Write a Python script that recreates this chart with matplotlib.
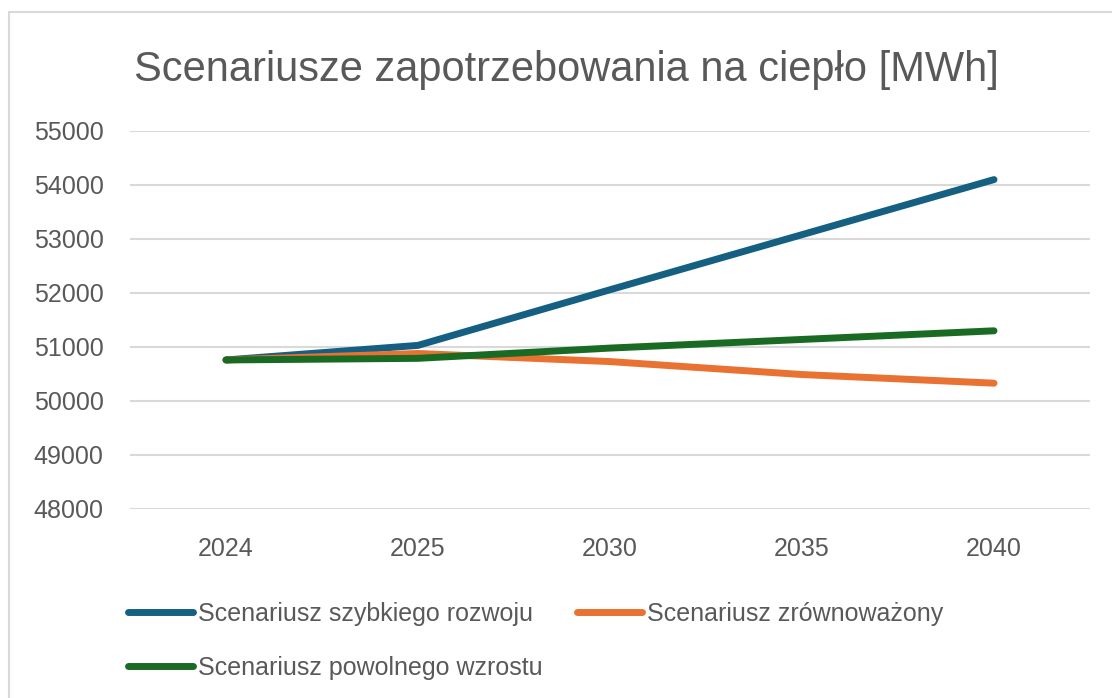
import matplotlib.pyplot as plt
from matplotlib.patches import Rectangle

# dane
lata = ["2024", "2025", "2030", "2035", "2040"]
szybki = [50760, 51030, 52060, 53080, 54100]
zrownowazony = [50760, 50880, 50730, 50490, 50330]
powolny = [50760, 50790, 50980, 51140, 51300]

nazwy = ["Scenariusz szybkiego rozwoju", "Scenariusz zrównoważony", "Scenariusz powolnego wzrostu"]
kolory = ["#156082", "#E97132", "#196B24"]

plt.rcParams["font.family"] = ["Liberation Sans", "DejaVu Sans"]
szary = "#595959"

fig = plt.figure(figsize=(11.12, 6.98), dpi=100)
# ramka wykresu
fig.patches.append(Rectangle((9 / 1112, -0.01), 1.02, 1 - 12 / 698 + 0.01,
                             transform=fig.transFigure, fill=False,
                             edgecolor="#D9D9D9", linewidth=1.5))

ax = fig.add_axes([130 / 1112, 1 - 509 / 698, 960 / 1112, 378 / 698])
x = list(range(len(lata)))
linie = []
for dane, nazwa, kolor in zip([szybki, zrownowazony, powolny], nazwy, kolory):
    l, = ax.plot(x, dane, color=kolor, linewidth=5, solid_capstyle="round",
                 solid_joinstyle="round", label=nazwa)
    linie.append(l)

ax.set_xlim(-0.5, len(lata) - 0.5)
ax.set_ylim(48000, 55000)
ax.set_yticks(range(48000, 55001, 1000))
ax.set_xticks(x)
ax.set_xticklabels(lata)
ax.grid(axis="y", color="#D9D9D9", linewidth=1.5)
ax.set_axisbelow(True)
for s in ax.spines.values():
    s.set_visible(False)
ax.tick_params(length=0, labelsize=18, labelcolor=szary)
ax.tick_params(axis="y", pad=19)
ax.tick_params(axis="x", pad=20)

fig.text(0.5 * (133 + 1000) / 1112, 1 - 70 / 698,
         "Scenariusze zapotrzebowania na ciepło [MWh]",
         ha="center", va="center", fontsize=30, color=szary)

# legenda: kolejnosc wierszami
uchwyty = [linie[0], linie[2], linie[1]]
etykiety = [nazwy[0], nazwy[2], nazwy[1]]
fig.legend(uchwyty, etykiety, ncol=2, loc="upper left",
           bbox_to_anchor=(105 / 1112, 1 - 579 / 698), frameon=False,
           fontsize=18, labelcolor=szary, handlelength=2.6, handletextpad=0.2,
           columnspacing=1.4, labelspacing=1.2)

fig.savefig("out.png", dpi=100, facecolor="white")
